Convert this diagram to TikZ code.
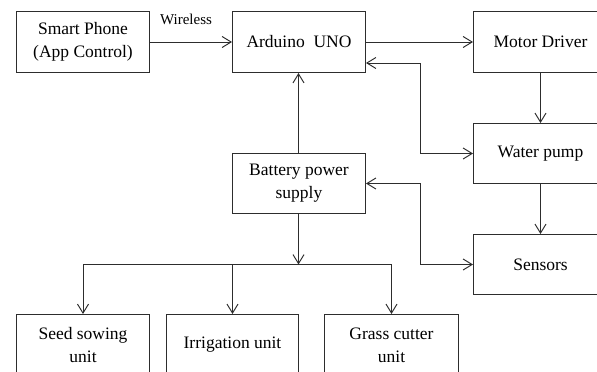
\documentclass[tikz,border=0pt]{standalone}
\usepackage{fontspec}
\setmainfont{Liberation Serif}
\usetikzlibrary{arrows.meta}
\definecolor{linec}{RGB}{45,45,45}
\begin{document}
\begin{tikzpicture}[x=1pt,y=-1pt,
  box/.style={draw=linec, line width=1pt, minimum width=133pt, minimum height=61pt,
    anchor=north west, align=center, inner sep=0pt,
    font=\fontsize{17.5}{23}\selectfont, text=black},
  conn/.style={draw=linec, line width=0.95pt},
  arr/.style={conn, -{Straight Barb[length=9pt,width=11pt]}},
  darr/.style={conn, {Straight Barb[length=9pt,width=11pt]}-{Straight Barb[length=9pt,width=11pt]}}]
\useasboundingbox (0,0) rectangle (597,372);
\clip (0,0) rectangle (597,372);
\fill[white] (0,0) rectangle (597,372);
% boxes
\node[box] (phone) at (16,11) {Smart Phone\\(App Control)};
\node[box] (ard) at (232,11) {Arduino\ \ UNO};
\node[box, minimum width=134pt] (motor) at (473,11) {Motor Driver};
\node[box, minimum width=134pt, minimum height=60pt] (pump) at (473,123) {Water pump};
\node[box, minimum width=134pt, minimum height=60pt] (sens) at (473,234) {Sensors};
\node[box, minimum height=60pt] (bat) at (232,153) {Battery power\\supply};
\node[box] (seed) at (16,314) {Seed sowing\\unit};
\node[box, minimum width=132pt] (irr) at (166,314) {Irrigation unit};
\node[box, minimum width=134pt] (grass) at (324,314) {Grass cutter\\unit};
% label
\node[font=\fontsize{15}{18}\selectfont, inner sep=0pt] (wl) at (186,19) {Wireless};
% connectors
\coordinate (vx) at (540.5,0);
\coordinate (bx) at (298.5,0);
\draw[arr] (phone.east) -- (ard.west);
\draw[arr] (ard.east) -- (motor.west |- ard.east);
\draw[arr] (motor.south -| vx) -- (pump.north -| vx);
\draw[arr] (pump.south -| vx) -- (sens.north -| vx);
\draw[darr] ([yshift=10pt]ard.south east) -- ++(54,0) |- (pump.west);
\draw[darr] (bat.east) -- ++(54,0) |- (sens.west);
\draw[arr] (bat.north -| bx) -- (ard.south -| bx);
\coordinate (bus) at (298.5,264.5);
\draw[arr] (bat.south -| bus) -- (bus);
\draw[conn] (seed.north |- bus) -- (grass.north |- bus);
\draw[arr] (seed.north |- bus) -- (seed.north);
\draw[arr] (irr.north |- bus) -- (irr.north);
\draw[arr] (grass.north |- bus) -- (grass.north);
\end{tikzpicture}
\end{document}
